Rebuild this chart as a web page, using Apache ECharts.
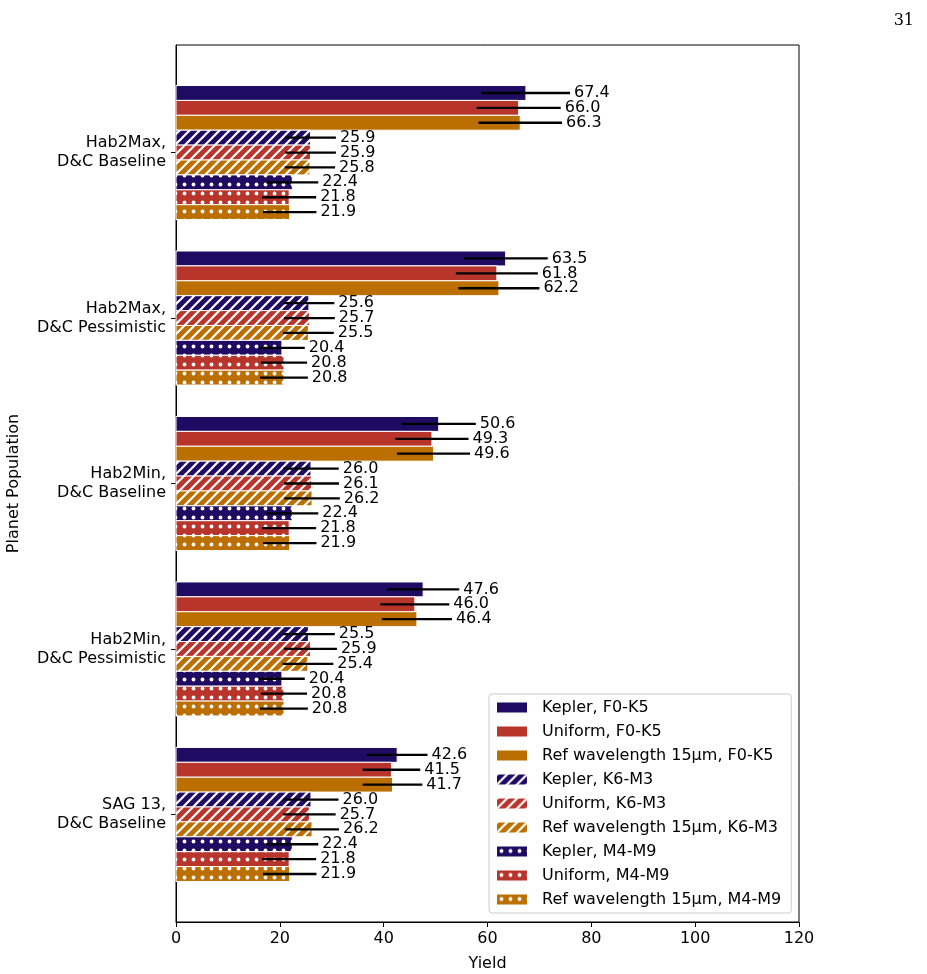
<!DOCTYPE html>
<html>
<head>
<meta charset="utf-8">
<script src="https://cdn.jsdelivr.net/npm/echarts@6/dist/echarts.min.js"></script>
<style>
  html, body { margin: 0; padding: 0; background: #fff; }
  #chart { width: 927px; height: 974px; }
</style>
</head>
<body>
<div id="chart"></div>
<script>
// planet populations (y axis, top to bottom)
const categories = [
  'Hab2Max,\nD&C Baseline',
  'Hab2Max,\nD&C Pessimistic',
  'Hab2Min,\nD&C Baseline',
  'Hab2Min,\nD&C Pessimistic',
  'SAG 13,\nD&C Baseline'
];

const seriesNames = [
  'Kepler, F0-K5', 'Uniform, F0-K5', 'Ref wavelength 15µm, F0-K5',
  'Kepler, K6-M3', 'Uniform, K6-M3', 'Ref wavelength 15µm, K6-M3',
  'Kepler, M4-M9', 'Uniform, M4-M9', 'Ref wavelength 15µm, M4-M9'
];

// yields
const keplerF = [67.4, 63.5, 50.6, 47.6, 42.6];
const uniformF = [66.0, 61.8, 49.3, 46.0, 41.5];
const refF = [66.3, 62.2, 49.6, 46.4, 41.7];
const keplerK = [25.9, 25.6, 26.0, 25.5, 26.0];
const uniformK = [25.9, 25.7, 26.1, 25.9, 25.7];
const refK = [25.8, 25.5, 26.2, 25.4, 26.2];
const keplerM = [22.4, 20.4, 22.4, 20.4, 22.4];
const uniformM = [21.8, 20.8, 21.8, 20.8, 21.8];
const refM = [21.9, 20.8, 21.9, 20.8, 21.9];

// error bar half widths
const keplerFErr = [8.5, 8.1, 7.15, 6.95, 5.85];
const uniformFErr = [8.1, 7.9, 7.05, 6.65, 5.55];
const refFErr = [8.05, 7.8, 7.05, 6.75, 5.75];
const keplerKErr = [4.9, 4.9, 5.35, 5.1, 5.3];
const uniformKErr = [4.9, 4.9, 5.3, 5.1, 5.05];
const refKErr = [4.85, 4.9, 5.35, 4.9, 5.2];
const keplerMErr = [5.0, 4.4, 5.0, 4.4, 5.0];
const uniformMErr = [5.2, 4.45, 5.2, 4.45, 5.2];
const refMErr = [5.15, 4.6, 5.15, 4.6, 5.15];

const xTicks = [0, 20, 40, 60, 80, 100, 120];

const allValues = [keplerF, uniformF, refF, keplerK, uniformK, refK, keplerM, uniformM, refM];
const allErrs = [keplerFErr, uniformFErr, refFErr, keplerKErr, uniformKErr, refKErr, keplerMErr, uniformMErr, refMErr];

const colKepler = '#200b63';
const colUniform = '#b8352c';
const colRef = '#bb6f00';
const baseColors = [colKepler, colUniform, colRef];

// hatch patterns drawn on small canvases
function solid(c) { return c; }
function hatch(c) {
  const cv = document.createElement('canvas');
  cv.width = 10; cv.height = 10;
  const g = cv.getContext('2d');
  g.fillStyle = c; g.fillRect(0, 0, 10, 10);
  g.strokeStyle = '#fff'; g.lineWidth = 2.2;
  [-10, 0, 10].forEach(function (o) {
    g.beginPath(); g.moveTo(o - 1, 11); g.lineTo(o + 11, -1); g.stroke();
  });
  return { image: cv, repeat: 'repeat' };
}
function dots(c) {
  const cv = document.createElement('canvas');
  cv.width = 9; cv.height = 9;
  const g = cv.getContext('2d');
  g.fillStyle = c; g.fillRect(0, 0, 9, 9);
  g.fillStyle = '#fff';
  g.beginPath(); g.arc(4.5, 4.5, 1.9, 0, Math.PI * 2); g.fill();
  return { image: cv, repeat: 'repeat' };
}
const fills = [];
[solid, hatch, dots].forEach(function (fn) {
  baseColors.forEach(function (c) { fills.push(fn(c)); });
});

const barH = 0.09;
const fs = 16;

function makeRender(k) {
  return function (params, api) {
    const gi = api.value(0);
    const v = api.value(1);
    const e = api.value(2);
    const yc = gi + (k - 4) * barH;
    const p0 = api.coord([0, yc]);
    const p1 = api.coord([v, yc]);
    const h = api.size([0, barH])[1];
    const eL = api.coord([v - e, yc]);
    const eR = api.coord([v + e, yc]);
    return {
      type: 'group',
      children: [
        { type: 'rect', shape: { x: p0[0], y: p0[1] - h / 2, width: p1[0] - p0[0], height: h },
          style: { fill: fills[k], stroke: '#fff', lineWidth: 1 } },
        { type: 'line', shape: { x1: eL[0], y1: eL[1], x2: eR[0], y2: eR[1] },
          style: { stroke: '#000', lineWidth: 2.3 } },
        { type: 'text', x: eR[0] + 4, y: eR[1],
          style: { text: v.toFixed(1), fill: '#000', fontSize: fs, fontFamily: 'DejaVu Sans',
                   textAlign: 'left', textVerticalAlign: 'middle' } }
      ]
    };
  };
}

const series = seriesNames.map(function (name, k) {
  return {
    name: name,
    type: 'custom',
    itemStyle: { color: fills[k] },
    encode: { x: 1, y: 0 },
    renderItem: makeRender(k),
    data: categories.map(function (c, i) { return [i, allValues[k][i], allErrs[k][i]]; })
  };
});

const chart = echarts.init(document.getElementById('chart'));
chart.setOption({
  animation: false,
  backgroundColor: '#fff',
  textStyle: { fontFamily: 'DejaVu Sans' },
  title: {
    text: '31', right: 8, top: 8,
    textStyle: { fontFamily: 'DejaVu Serif', fontSize: 16, fontWeight: 'normal', color: '#000' }
  },
  grid: {
    left: 176, right: 128, top: 45, bottom: 52,
    outerBoundsMode: 'none',
    containLabel: false,
    show: true, borderColor: '#000', borderWidth: 1
  },
  legend: {
    data: seriesNames,
    orient: 'vertical',
    left: 489, top: 694,
    padding: [4.5, 10, 4.5, 8],
    itemWidth: 30, itemHeight: 10, itemGap: 6,
    icon: 'rect',
    backgroundColor: 'rgba(255,255,255,0.8)',
    borderColor: '#cccccc', borderWidth: 1, borderRadius: 3,
    textStyle: { fontSize: fs, color: '#000', lineHeight: 18, padding: [0, 0, 0, 10] }
  },
  xAxis: {
    type: 'value',
    min: xTicks[0], max: xTicks[xTicks.length - 1], interval: 20,
    name: 'Yield', nameLocation: 'middle', nameGap: 34,
    nameTextStyle: { fontSize: fs, color: '#000' },
    axisLine: { show: true, onZero: false, lineStyle: { color: '#000' } },
    axisTick: { show: true, length: 5, lineStyle: { color: '#000' } },
    axisLabel: { fontSize: fs, color: '#000', margin: 9 },
    splitLine: { show: false }
  },
  yAxis: {
    type: 'value',
    inverse: true,
    min: -0.65, max: 4.65,
    name: 'Planet Population', nameLocation: 'middle', nameGap: 154,
    nameTextStyle: { fontSize: fs, color: '#000' },
    axisLine: { show: true, onZero: false, lineStyle: { color: '#000' } },
    axisTick: { show: true, length: 5, lineStyle: { color: '#000' }, customValues: [0, 1, 2, 3, 4] },
    axisLabel: {
      fontSize: fs, color: '#000', margin: 10, lineHeight: 19, align: 'right',
      customValues: [0, 1, 2, 3, 4],
      formatter: function (v) { return categories[Math.round(v)]; }
    },
    splitLine: { show: false }
  },
  series: series
});
</script>
</body>
</html>
